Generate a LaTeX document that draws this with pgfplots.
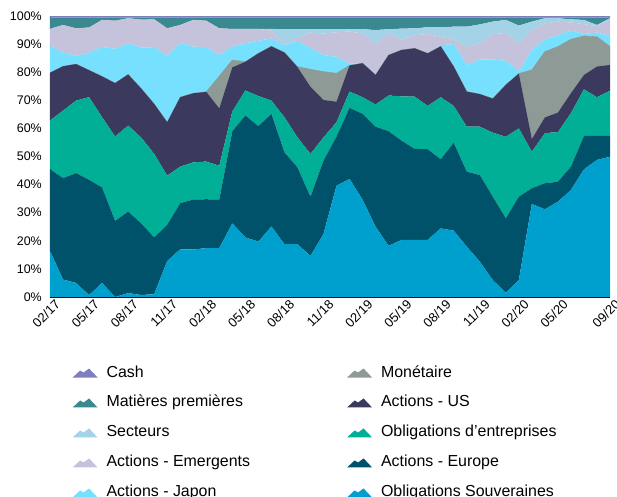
\documentclass[border=0pt]{standalone}
\usepackage{pgfplots}
\pgfplotsset{compat=1.18}
\usepackage{pgfplotstable}
\usepackage{fontspec}
\setmainfont{Liberation Sans}

\definecolor{souv}{HTML}{00A0CE}
\definecolor{eur}{HTML}{00526A}
\definecolor{entr}{HTML}{00AF95}
\definecolor{usc}{HTML}{3B3A5E}
\definecolor{mon}{HTML}{8E9A95}
\definecolor{jap}{HTML}{77E0FF}
\definecolor{emer}{HTML}{C5C3DC}
\definecolor{sect}{HTML}{A4D3E7}
\definecolor{mat}{HTML}{3A8890}
\definecolor{cashc}{HTML}{7F7FC0}

\pgfplotstableread{
x souv eur entr us mon jap emer sect mat cash
0 16.4 29.1 17.3 17.0 0 9.5 6.1 0 4.0 0.6
1 6.2 36.1 24.0 15.8 0 4.9 9.8 0 2.6 0.6
2 5.0 39.1 25.8 13.0 0 2.9 9.8 0 3.8 0.6
3 0.7 41.0 29.4 9.6 0 6.2 9.0 0 3.5 0.6
4 5.0 34.0 25.0 14.5 0 10.5 9.6 0 0.8 0.6
5 0 27.1 30.0 19.0 0 12.2 10.0 0 1.1 0.6
6 1.4 29.0 30.6 18.2 0 11.0 9.0 0 0.2 0.6
7 0.7 25.5 30.6 17.4 0 14.6 9.9 0 0.7 0.6
8 1.0 20.2 29.7 17.8 0 20.2 9.9 0 0.6 0.6
9 12.8 12.9 17.5 19.0 0 23.6 9.8 0 3.8 0.6
10 17.0 16.4 13.0 24.7 0 19.3 6.4 0 2.6 0.6
11 16.9 17.8 13.2 24.6 0 16.6 9.5 0 0.8 0.6
12 17.4 17.4 13.4 24.8 0 15.9 9.4 0 1.1 0.6
13 17.4 17.3 12.0 20.4 11.5 7.5 9.5 0 3.8 0.6
14 26.2 32.8 7.0 15.7 2.6 4.8 6.3 0 4.0 0.6
15 21.2 43.4 8.9 10.2 0 6.6 5.1 0 4.0 0.6
16 19.7 41.1 10.7 15.2 0 4.5 4.2 0 4.0 0.6
17 25.1 40.1 4.7 19.3 0 2.8 2.8 0.6 4.0 0.6
18 18.8 32.7 12.5 23.0 0 2.5 0 5.8 4.1 0.6
19 18.8 27.3 10.7 25.0 0.2 9.2 1.1 3.0 4.1 0.6
20 14.6 21.1 15.2 23.9 6.2 7.5 5.6 1.2 4.1 0.6
21 22.4 26.1 8.3 13.3 10.1 5.9 7.7 1.5 4.1 0.6
22 39.6 17.5 5.1 7.3 10.1 5.9 8.7 1.1 4.1 0.6
23 42.0 25.3 5.8 9.3 0 0.6 11.5 0.8 4.1 0.6
24 34.6 30.6 5.9 12.1 0 0 10.6 1.5 4.1 0.6
25 25.0 35.6 7.9 10.5 0 0 10.7 5.3 4.4 0.6
26 18.2 40.8 12.7 14.4 0 0 7.7 1.5 4.1 0.6
27 20.3 35.3 15.8 16.5 0 0 3.6 4.0 3.9 0.6
28 20.3 32.4 18.6 17.2 0 0 4.7 2.4 3.8 0.6
29 20.3 32.3 15.4 18.7 0 0 6.9 2.4 3.4 0.6
30 24.4 24.6 22.1 18.1 0 0.4 3.0 3.4 3.4 0.6
31 23.6 31.3 13.1 14.0 0 8.0 1.7 4.5 3.2 0.6
32 17.9 26.7 16.0 12.5 0 9.5 6.3 7.3 3.2 0.6
33 12.6 30.8 17.2 11.6 0 12.3 5.8 6.7 2.4 0.6
34 6.0 29.7 22.8 12.1 0 13.9 9.0 4.5 1.4 0.6
35 1.5 26.5 29.0 18.5 0 8.6 9.9 4.6 0.8 0.6
36 6.0 29.7 24.3 19.5 0 0.8 10.0 6.3 2.8 0.6
37 33.1 5.6 13.0 4.5 24.6 7.1 6.9 3.2 1.4 0.6
38 31.2 9.3 17.8 5.6 23.4 4.4 5.7 1.8 0.2 0.6
39 33.9 7.1 17.7 6.9 23.5 4.1 4.8 1.2 0.2 0.6
40 38.1 8.3 19.0 7.1 19.2 3.1 2.9 1.1 0.6 0.6
41 45.4 11.9 16.6 5.1 13.9 0.7 3.5 1.5 0.8 0.6
42 48.8 8.5 13.8 10.9 10.6 1.5 2.3 0.4 2.6 0.6
43 49.9 7.4 16.1 9.2 6.5 3.8 5.9 0.4 0.2 0.6
}\alloc

\pgfplotsset{
  mtn/.style={legend image code/.code={
    \fill[##1,draw=none] (0bp,-4.5bp) -- (7.5bp,2.5bp) -- (11bp,0.5bp) -- (16.5bp,4.5bp) -- (25bp,-4.5bp) -- cycle;}},
}

\begin{document}
\begin{tikzpicture}
\begin{axis}[
  name=ax,
  at={(0,0)}, anchor=south west,
  scale only axis,
  width=560bp, height=281bp,
  xmin=0, xmax=43, ymin=0, ymax=100,
  stack plots=y,
  axis x line*=bottom, axis y line*=left,
  axis line style={-, black, line width=0.9pt},
  major tick length=0pt,
  xtick={0,3,6,9,12,15,18,21,24,27,30,33,36,39,43},
  xticklabels={02/17,05/17,08/17,11/17,02/18,05/18,08/18,11/18,02/19,05/19,08/19,11/19,02/20,05/20,09/20},
  ytick={0,10,20,30,40,50,60,70,80,90,100},
  yticklabels={0\%,10\%,20\%,30\%,40\%,50\%,60\%,70\%,80\%,90\%,100\%},
  yticklabel style={font=\fontsize{12.5}{14}\selectfont, inner sep=0pt, xshift=-8bp},
  xticklabel style={font=\fontsize{13}{15}\selectfont, rotate=45, anchor=east, inner sep=1bp, xshift=3bp, yshift=-9bp},
  legend entries={Cash,Monétaire,Matières premières,Actions - US,Secteurs,Obligations d'entreprises,Actions - Emergents,Actions - Europe,Actions - Japon,Obligations Souveraines},
  legend style={at={(axis description cs:0.04,-0.236)}, anchor=north west,
    draw=none, fill=none, inner sep=0pt,
    font=\fontsize{16}{19}\selectfont,
    legend columns=2, row sep=11bp,
    nodes={text height=11.5bp, text depth=3.5bp},
    /tikz/every odd column/.append style={column sep=7bp},
    /tikz/every even column/.append style={column sep=95bp}},
  legend cell align=left,
]
\addlegendimage{mtn, fill=cashc}
\addlegendimage{mtn, fill=mon}
\addlegendimage{mtn, fill=mat}
\addlegendimage{mtn, fill=usc}
\addlegendimage{mtn, fill=sect}
\addlegendimage{mtn, fill=entr}
\addlegendimage{mtn, fill=emer}
\addlegendimage{mtn, fill=eur}
\addlegendimage{mtn, fill=jap}
\addlegendimage{mtn, fill=souv}

\addplot[fill=souv, draw=none] table[x=x, y=souv] {\alloc} \closedcycle;
\addplot[fill=eur, draw=none] table[x=x, y=eur] {\alloc} \closedcycle;
\addplot[fill=entr, draw=none] table[x=x, y=entr] {\alloc} \closedcycle;
\addplot[fill=usc, draw=none] table[x=x, y=us] {\alloc} \closedcycle;
\addplot[fill=mon, draw=mon, line width=0.6pt] table[x=x, y=mon] {\alloc} \closedcycle;
\addplot[fill=jap, draw=none] table[x=x, y=jap] {\alloc} \closedcycle;
\addplot[fill=emer, draw=none] table[x=x, y=emer] {\alloc} \closedcycle;
\addplot[fill=sect, draw=none] table[x=x, y=sect] {\alloc} \closedcycle;
\addplot[fill=mat, draw=none] table[x=x, y=mat] {\alloc} \closedcycle;
\addplot[fill=cashc, draw=none] table[x=x, y=cash] {\alloc} \closedcycle;
\end{axis}
\pgfresetboundingbox
\path[use as bounding box] ([shift={(-50bp,-200bp)}]ax.south west) rectangle ([shift={(7bp,16bp)}]ax.north east);
\end{tikzpicture}
\end{document}
